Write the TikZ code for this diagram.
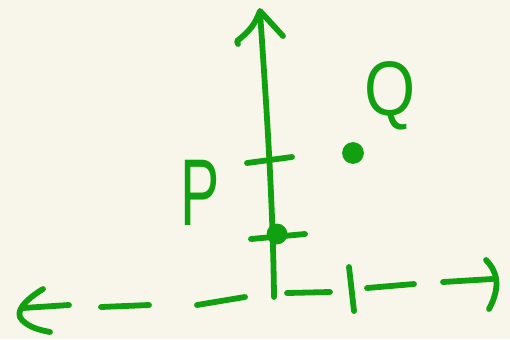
\documentclass[tikz,border=0pt]{standalone}
\usepackage{fontspec}
\setmainfont{Liberation Sans}
\definecolor{paper}{RGB}{248,246,234}
\definecolor{ink}{RGB}{16,160,16}
\tikzset{
  pen/.style={draw=ink, line width=3.3pt, line cap=round, line join=round},
  dot/.style={circle, fill=ink, draw=ink, line width=1pt, minimum size=0.38cm, inner sep=0pt},
  letter/.style={text=ink, inner sep=0pt}
}
\begin{document}
\begin{tikzpicture}[x=0.02cm, y=-0.02cm]
\fill[paper] (0,0) rectangle (510,339);
\useasboundingbox (0,0) rectangle (510,339);
% vertical axis
\draw[pen] (274,297) .. controls (273,200) and (266,100) .. (260,12);
\draw[pen] (238,44) -- (237,41) .. controls (250,31) and (255,24) .. (260,11) -- (283,36);
% ticks on the vertical axis
\draw[pen] (247,163) -- (292,157);
\draw[pen] (251,239) -- (305,234);
% points
\node[dot] (p) at (277,234) {};
\node[dot, minimum size=0.4cm] (q) at (353,153) {};
% labels
\node[letter, font=\fontsize{54}{54}\selectfont] (plabel) at (200,193) {\scalebox{0.62}[1]{P}};
\node[letter, font=\fontsize{44}{44}\selectfont] (qlabel) at (390,96) {\scalebox{0.85}[1]{Q}};
% horizontal axis, dashed by hand
\draw[pen] (43,289) .. controls (25,300) and (14,312) .. (22,320) .. controls (30,328) and (40,330) .. (50,332);
\draw[pen] (23,308) -- (69,305);
\draw[pen] (101,307) -- (149,305);
\draw[pen] (197,305) -- (245,297);
\draw[pen] (287,293) -- (330,292);
\draw[pen] (349,267) -- (354,311);
\draw[pen] (367,288) -- (414,284);
\draw[pen] (443,282) -- (492,279);
\draw[pen] (486,260) .. controls (496,270) and (502,285) .. (489,309);
\end{tikzpicture}
\end{document}
